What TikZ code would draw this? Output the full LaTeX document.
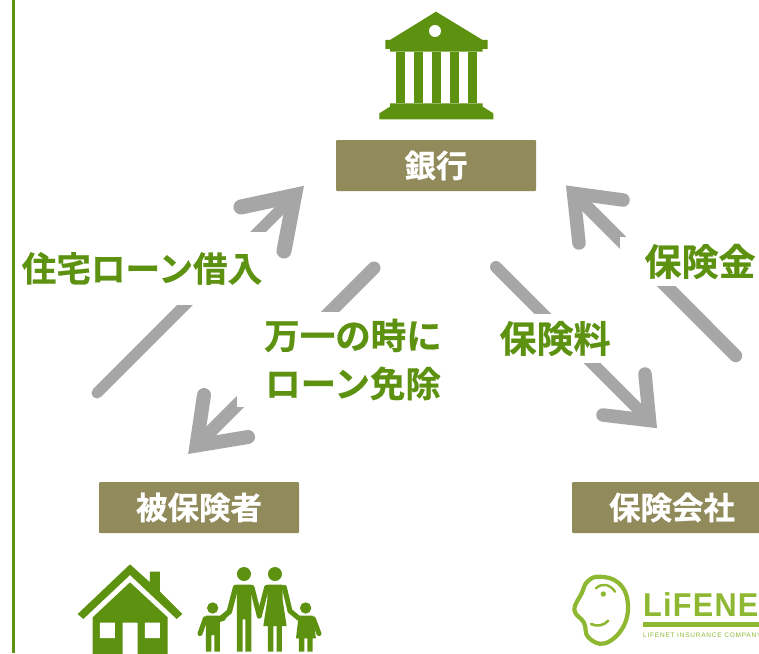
\documentclass[tikz,border=0pt]{standalone}
\usepackage{fontspec}
\setmainfont{Noto Sans CJK JP}[BoldFont={Noto Sans CJK JP Bold},BoldFeatures={FakeBold=0.6}]
\newfontfamily\logofont{Liberation Sans}[BoldFont={Liberation Sans Bold}]
\definecolor{lfgreen}{HTML}{5D9110}
\definecolor{lfbox}{HTML}{918A5B}
\definecolor{lfgray}{HTML}{A6A6A6}
\definecolor{lflogo}{HTML}{8FB832}
\tikzset{
  stepbox/.style={fill=lfbox,rounded corners=1pt,minimum width=200pt,minimum height=51pt,inner sep=0pt,text=white,font=\fontsize{31.5}{36}\selectfont\bfseries},
  lab/.style={fill=white,inner sep=0pt,text=lfgreen,align=center,font=\fontsize{35.5}{48}\selectfont\bfseries},
  labwide/.style={lab,font=\fontsize{37}{48}\selectfont\bfseries},
  labtight/.style={lab,font=\fontsize{34.6}{48}\selectfont\bfseries},
  shaftline/.style={draw=lfgray,line cap=round},
  headline/.style={draw=lfgray,line cap=round,line join=miter},
  ink/.style={fill=lfgreen,draw=none},
  inkline/.style={draw=lfgreen,line cap=round,line join=round},
  logoline/.style={draw=lflogo,line cap=round,line join=round}
}
\begin{document}
\begin{tikzpicture}[x=1pt,y=-1pt]
\useasboundingbox (0,0) rectangle (759,653);
\clip (0,0) rectangle (759,653);
\fill[white] (0,0) rectangle (759,653);
\fill[lfgreen] (12,0) rectangle (15,653);
% boxes
\node[stepbox] (bank) at (436,165.5) {銀行};
\node[stepbox] (insured) at (199,507.5) {被保険者};
\node[stepbox] (company) at (672,507.5) {保険会社};
% connector ends
\coordinate (tailA) at (97,393);  \coordinate (tipA) at (294.5,195.5);
\coordinate (barbA1) at (241,207); \coordinate (barbA2) at (284,251);
\coordinate (tailB) at (374,268); \coordinate (tipB) at (196.5,445.5);
\coordinate (barbB1) at (204,395); \coordinate (barbB2) at (248,437);
\coordinate (tailC) at (496,267); \coordinate (tipC) at (649.5,420.5);
\coordinate (barbC1) at (645,374); \coordinate (barbC2) at (603,415);
\coordinate (tailD) at (735.7,355.7); \coordinate (tipD) at (573.6,193.3);
\coordinate (barbD1) at (623,200); \coordinate (barbD2) at (579,243);
\draw[shaftline,line width=11pt] (tailA) -- (tipA);
\draw[headline,line width=15pt] (barbA1) -- (tipA) -- (barbA2);
\draw[shaftline,line width=13pt] (tailB) -- (tipB);
\draw[headline,line width=14pt] (barbB1) -- (tipB) -- (barbB2);
\draw[shaftline,line width=12pt] (tailC) -- (tipC);
\draw[headline,line width=13.5pt] (barbC1) -- (tipC) -- (barbC2);
\draw[shaftline,line width=13pt] (tailD) -- (tipD);
\draw[headline,line width=13.5pt] (barbD1) -- (tipD) -- (barbD2);
% labels masking the connectors
\node[labtight,minimum width=250pt,minimum height=73pt] (lA) at (142,268.5) {\raisebox{-1.5pt}{住宅ローン借入}};
\node[lab,minimum width=232pt,minimum height=95pt] (lB) at (353,359.5) {万一の時に\\ローン免除};
\node[labwide,minimum width=130pt,minimum height=49pt] (lC) at (555,338.5) {\raisebox{-1pt}{保険料}};
\node[labwide,minimum width=160pt,minimum height=49pt] (lD) at (700,261.5) {\raisebox{-1pt}{保険金}};
% bank icon
\begin{scope}[shift={(360,0)},x=0.3333pt,y=-0.3333pt]
\fill[ink] (228,35) -- (368,120) -- (383,120) -- (383,147) -- (368,147) -- (368,155) -- (90,155) -- (90,147) -- (76,147) -- (76,120) -- (90,120) -- cycle;
\fill[white] (225,93) circle[radius=18];
\foreach \c in {108,162,216,270,324} \fill[ink] (\c,155) rectangle (\c+27,310);
\fill[ink] (90,310) -- (368,310) -- (368,320) -- (400,340) -- (400,358) -- (58,358) -- (58,340) -- (90,320) -- cycle;
\end{scope}
% house and family
\begin{scope}[shift={(60,550)},x=0.3333pt,y=-0.3333pt]
\fill[ink] (210,43) -- (270,97) -- (270,65) -- (300,65) -- (300,125) -- (367,192) -- (350,207) -- (210,75) -- (70,207) -- (53,192) -- cycle;
\fill[ink] (210,97) -- (323,202) -- (323,320) -- (233,320) -- (233,218) -- (188,218) -- (188,320) -- (98,320) -- (98,202) -- cycle;
\fill[white] (120,218) rectangle (165,264) (255,218) rectangle (300,264);
% man
\fill[ink] (552,72) circle[radius=21];
\fill[ink] (531,104) -- (574,104) -- (574,305) -- (556,305) -- (556,208) -- (548,208) -- (548,305) -- (531,305) -- cycle;
\draw[inkline,line width=5.5pt] (527,112) -- (508,185) -- (480,208);
\draw[inkline,line width=5pt] (576,112) -- (598,198);
% woman
\fill[ink] (645,72) circle[radius=21];
\fill[ink] (622,104) -- (668,104) -- (668,150) -- (680,228) -- (666,228) -- (666,305) -- (650,305) -- (650,228) -- (640,228) -- (640,305) -- (624,305) -- (624,228) -- (610,228) -- (622,150) -- cycle;
\draw[inkline,line width=5pt] (620,112) -- (598,198);
\draw[inkline,line width=5pt] (673,112) -- (690,183) -- (718,206);
% boy
\fill[ink] (458,174) circle[radius=17];
\fill[ink] (438,197) -- (480,197) -- (480,305) -- (463,305) -- (463,255) -- (454,255) -- (454,305) -- (438,305) -- cycle;
\draw[inkline,line width=5pt] (436,206) -- (420,251);
\draw[inkline,line width=5pt] (476,205) -- (490,205);
% girl
\fill[ink] (737,174) circle[radius=17];
\fill[ink] (716,197) -- (758,197) -- (768,265) -- (758,265) -- (758,305) -- (742,305) -- (742,265) -- (733,265) -- (733,305) -- (717,305) -- (717,265) -- (708,265) -- cycle;
\draw[inkline,line width=5pt] (760,206) -- (777,251);
\end{scope}
% logo
\begin{scope}[shift={(560,560)},x=0.3333pt,y=-0.3333pt]
\draw[logoline,line width=4.2pt] plot[smooth cycle,tension=0.7] coordinates {(118,50) (175,68) (203,125) (190,200) (135,250) (85,232) (72,188) (43,150) (65,100) (82,65)};
\draw[logoline,line width=2.4pt] (108,85) .. controls (125,68) and (150,72) .. (165,95);
\fill[lflogo] (130,102) circle[radius=8];
\draw[logoline,line width=2.6pt] (93,192) .. controls (110,200) and (130,198) .. (145,182);
\fill[lflogo] (248,185) rectangle (600,200);
\end{scope}
\node[anchor=base west,inner sep=0pt,text=lflogo,xscale=0.93,font=\logofont\bfseries\fontsize{33}{36}\selectfont\addfontfeature{LetterSpace=4}] (lifenet) at (643,616.5) {LiFENET};
\node[anchor=base west,inner sep=0pt,text=lflogo,font=\logofont\fontsize{6.5}{8}\selectfont\addfontfeature{LetterSpace=12}] (lifenetsub) at (643,637) {LIFENET INSURANCE COMPANY};
\end{tikzpicture}
\end{document}
